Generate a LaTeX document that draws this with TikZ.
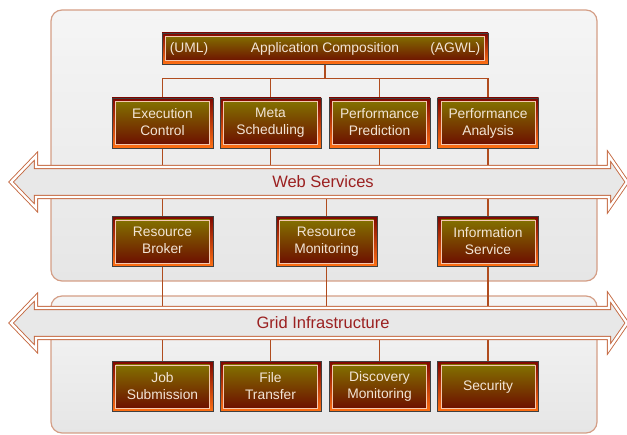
\documentclass[tikz,border=0pt]{standalone}
\usepackage{fontspec}
\setmainfont{Liberation Sans}
\usepackage{xcolor}
\usepackage{tikz}
\usetikzlibrary{positioning, calc, shadings}
\definecolor{panelfill}{RGB}{245, 245, 245}
\definecolor{panelshade}{RGB}{230, 230, 230}
\definecolor{panelline}{RGB}{212, 158, 134}
\definecolor{wirebrown}{RGB}{176, 76, 30}
\definecolor{bandline}{RGB}{196, 104, 64}
\definecolor{bandgray}{RGB}{232, 232, 232}
\definecolor{bandtext}{RGB}{155, 32, 32}
\definecolor{rimred}{RGB}{128, 8, 0}
\definecolor{rimorange}{RGB}{255, 112, 20}
\definecolor{oliveface}{RGB}{132, 120, 0}
\definecolor{maroonface}{RGB}{108, 8, 0}
\definecolor{faceedge}{RGB}{244, 200, 176}
\definecolor{facetext}{RGB}{242, 228, 214}
\newcommand{\modstrut}{\rule[-1.5pt]{0pt}{12pt}}
\pgfdeclarelayer{panels}
\pgfdeclarelayer{wires}
\pgfdeclarelayer{bands}
\pgfsetlayers{panels,wires,bands,main}

\begin{document}
\begin{tikzpicture}[
    x=1pt, y=-1pt,
    module/.style={rectangle, draw=black!75, line width=0.8pt, top color=rimred, middle color=rimred, bottom color=rimorange,
        minimum width=101pt, minimum height=50pt, inner sep=0pt, align=center, text=facetext,
        font=\fontsize{13.8}{17}\selectfont,
        execute at begin node=\modstrut, execute at end node=\modstrut,
        path picture={\shade[top color=oliveface, bottom color=maroonface, draw=faceedge, line width=0.8pt]
            ([shift={(3.5pt,-3.5pt)}]path picture bounding box.north west) rectangle
            ([shift={(-3.5pt,3.5pt)}]path picture bounding box.south east);}},
    tag/.style={text=facetext, font=\fontsize{13.8}{17}\selectfont, inner sep=0pt},
    panel/.style={draw=panelline, line width=1.2pt, rounded corners=11pt, top color=panelfill, bottom color=panelshade},
    wire/.style={draw=wirebrown, line width=1.4pt},
    band/.style={draw=bandline, line width=0.9pt, double=white, double distance=2.4pt,
        top color=bandgray, middle color=white, bottom color=bandgray},
    bandlabel/.style={text=bandtext, font=\fontsize{16.5}{20}\selectfont, inner sep=1pt}
]
    \useasboundingbox (0,0) rectangle (627,435);

    % Application layer
    \node[module, minimum width=326pt, minimum height=31pt] (app) at (325,48.5) {Application Composition};
    \node[tag, anchor=west] (uml) at ([xshift=8pt]app.west) {(UML)};
    \node[tag, anchor=east] (agwl) at ([xshift=-8pt]app.east) {(AGWL)};

    % Services
    \node[module] (exec) at (162.5,123) {Execution\\Control};
    \node[module] (meta) at (270.5,123) {Meta\\Scheduling};
    \node[module] (predict) at (379.5,123) {Performance\\Prediction};
    \node[module] (analysis) at (488,123) {Performance\\Analysis};

    \node[bandlabel] (web) at (323,182) {Web Services};

    \node[module] (broker) at (162.5,241.5) {Resource\\Broker};
    \node[module] (monitor) at (326.5,241.5) {Resource\\Monitoring};
    \node[module] (info) at (488,241.5) {Information\\Service};

    % Infrastructure
    \node[bandlabel] (grid) at (323,323) {Grid Infrastructure};

    \node[module] (job) at (162.5,386.5) {Job\\Submission};
    \node[module] (transfer) at (270.5,386.5) {File\\Transfer};
    \node[module] (discovery) at (379.5,386.5) {Discovery\\Monitoring};
    \node[module] (security) at (488,386.5) {Security};

    % Panels
    \begin{pgfonlayer}{panels}
        \path[panel] (51,10) rectangle (597,281);
        \path[panel] (51,296) rectangle (597,433);
    \end{pgfonlayer}

    % Connectors
    \begin{pgfonlayer}{wires}
        \draw[wire] (app.south) -- ++(0,14) coordinate (fork);
        \draw[wire] (exec.north) |- (fork) -| (analysis.north);
        \draw[wire] (meta.north) -- (meta.north |- fork);
        \draw[wire] (predict.north) -- (predict.north |- fork);
        \draw[wire] (exec.south) -- (broker.north);
        \draw[wire] (meta.south) -- (meta.south |- web);
        \draw[wire] (predict.south) -- (predict.south |- web);
        \draw[wire] (analysis.south) -- (info.north);
        \draw[wire] (monitor.north) -- (monitor.north |- web);
        \draw[wire] (broker.south) -- (job.north);
        \draw[wire] (monitor.south) -- (monitor.south |- grid);
        \draw[wire] (info.south) -- (security.north);
        \draw[wire] (transfer.north) -- (transfer.north |- grid);
        \draw[wire] (discovery.north) -- (discovery.north |- grid);
    \end{pgfonlayer}

    % Double arrows
    \begin{pgfonlayer}{bands}
        \foreach \yc in {182,323}
            \path[band] (11,\yc) -- (36,\yc-26) -- (36,\yc-15) -- (609,\yc-15) -- (609,\yc-26) -- (627,\yc)
                -- (609,\yc+26) -- (609,\yc+15) -- (36,\yc+15) -- (36,\yc+26) -- cycle;
    \end{pgfonlayer}
\end{tikzpicture}
\end{document}
